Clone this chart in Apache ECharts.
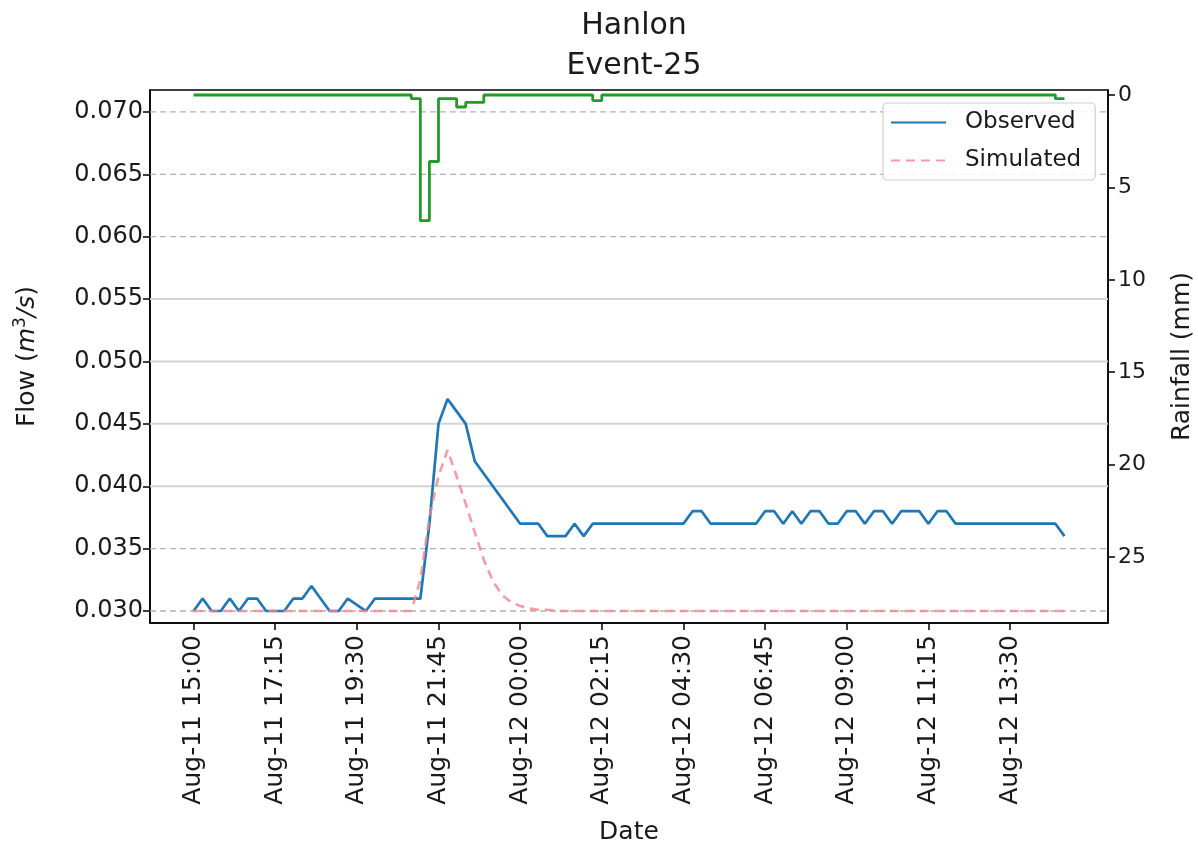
<!DOCTYPE html>
<html>
<head>
<meta charset="utf-8">
<script src="https://cdn.jsdelivr.net/npm/echarts@6/dist/echarts.min.js"></script>
<style>
html,body{margin:0;padding:0;background:#ffffff;}
#c{width:1198px;height:846px;}
</style>
</head>
<body>
<div id="c"></div>
<script>
// ---------------- DATA ----------------
const titleLines = ['Hanlon', 'Event-25'];
const seriesNames = ['Observed', 'Simulated'];
const year = 2019;
const firstSample = 'Aug-11 15:00';   // samples every 15 minutes
const sampleStepMinutes = 15;
const xMinLabel = 'Aug-11 13:48';
const xMaxLabel = 'Aug-12 16:12';

// Observed flow (m3/s), 15-min samples Aug-11 15:00 .. Aug-12 15:00
const observed = [
  0.030,0.031,0.030,0.030,0.031,0.030,0.031,0.031,0.030,0.030,
  0.030,0.031,0.031,0.032,0.031,0.030,0.030,0.031,0.0305,0.030,
  0.031,0.031,0.031,0.031,0.031,0.031,0.037,0.045,0.047,0.046,
  0.045,0.042,0.041,0.040,0.039,0.038,0.037,0.037,0.037,0.036,
  0.036,0.036,0.037,0.036,0.037,0.037,0.037,0.037,0.037,0.037,
  0.037,0.037,0.037,0.037,0.037,0.038,0.038,0.037,0.037,0.037,
  0.037,0.037,0.037,0.038,0.038,0.037,0.038,0.037,0.038,0.038,
  0.037,0.037,0.038,0.038,0.037,0.038,0.038,0.037,0.038,0.038,
  0.038,0.037,0.038,0.038,0.037,0.037,0.037,0.037,0.037,0.037,
  0.037,0.037,0.037,0.037,0.037,0.037,0.036
];

// Simulated flow (m3/s)
const simulated = [
  0.0300,0.0300,0.0300,0.0300,0.0300,0.0300,0.0300,0.0300,0.0300,0.0300,
  0.0300,0.0300,0.0300,0.0300,0.0300,0.0300,0.0300,0.0300,0.0300,0.0300,
  0.0300,0.0300,0.0300,0.0300,0.0300,0.0325,0.0375,0.0408,0.0429,0.0408,
  0.0386,0.0363,0.0341,0.0324,0.0313,0.0307,0.0304,0.0302,0.0301,0.0301,
  0.0300,0.0300,0.0300,0.0300,0.0300,0.0300,0.0300,0.0300,0.0300,0.0300,
  0.0300,0.0300,0.0300,0.0300,0.0300,0.0300,0.0300,0.0300,0.0300,0.0300,
  0.0300,0.0300,0.0300,0.0300,0.0300,0.0300,0.0300,0.0300,0.0300,0.0300,
  0.0300,0.0300,0.0300,0.0300,0.0300,0.0300,0.0300,0.0300,0.0300,0.0300,
  0.0300,0.0300,0.0300,0.0300,0.0300,0.0300,0.0300,0.0300,0.0300,0.0300,
  0.0300,0.0300,0.0300,0.0300,0.0300,0.0300,0.0300
];

// Rainfall (mm) per 15-min step
const rainfall = [
  0,0,0,0,0,0,0,0,0,0,
  0,0,0,0,0,0,0,0,0,0,
  0,0,0,0,0.2,6.8,3.6,0.2,0.2,0.65,
  0.4,0.4,0,0,0,0,0,0,0,0,
  0,0,0,0,0.3,0,0,0,0,0,
  0,0,0,0,0,0,0,0,0,0,
  0,0,0,0,0,0,0,0,0,0,
  0,0,0,0,0,0,0,0,0,0,
  0,0,0,0,0,0,0,0,0,0,
  0,0,0,0,0,0.2,0.2
];

const flowTicks = [0.030,0.035,0.040,0.045,0.050,0.055,0.060,0.065,0.070];
const flowGridDashed = [0.030,0.035,0.060,0.065,0.070];
const flowGridSolid = [0.040,0.045,0.050,0.055];
const flowMin = 0.02904, flowMax = 0.07176;
const rainTicks = [0,5,10,15,20,25];
const rainMin = -0.27, rainMax = 28.57;
const dateTickLabels = [
  'Aug-11 15:00','Aug-11 17:15','Aug-11 19:30','Aug-11 21:45','Aug-12 00:00',
  'Aug-12 02:15','Aug-12 04:30','Aug-12 06:45','Aug-12 09:00','Aug-12 11:15','Aug-12 13:30'
];

// ---------------- BUILD ----------------
const MONTHS = {Jan:0,Feb:1,Mar:2,Apr:3,May:4,Jun:5,Jul:6,Aug:7,Sep:8,Oct:9,Nov:10,Dec:11};
function parseLabel(s){
  const m = s.match(/^(\w{3})-(\d+) (\d+):(\d+)$/);
  return Date.UTC(year, MONTHS[m[1]], +m[2], +m[3], +m[4]);
}
const startMs = parseLabel(firstSample);
const times = observed.map((_, i) => startMs + i * sampleStepMinutes * 60000);
const tickTimes = dateTickLabels.map(parseLabel);
const xMin = parseLabel(xMinLabel), xMax = parseLabel(xMaxLabel);
function labelFor(v){
  let best = -1, bd = Infinity;
  tickTimes.forEach((t, i) => { const d = Math.abs(t - v); if (d < bd) { bd = d; best = i; } });
  return bd < 60000 ? dateTickLabels[best] : '';
}

const FONT = 'DejaVu Sans';
const TXT = '#1a1a1a';

function gridSeries(v, dashed){
  return {
    name: '_grid' + v, type: 'line', yAxisIndex: 0, silent: true, z: 1,
    symbol: 'none', showSymbol: false,
    lineStyle: dashed ? {type: [6, 4], color: '#b3b3b3', width: 1.3}
                      : {type: 'solid', color: '#d4d4d4', width: 2},
    data: [[xMin, v], [xMax, v]]
  };
}

const chart = echarts.init(document.getElementById('c'));
chart.setOption({
  animation: false,
  backgroundColor: '#ffffff',
  title: {
    text: titleLines.join('\n'),
    left: 629, top: 1, textAlign: 'center',
    textStyle: {fontFamily: FONT, fontSize: 30, fontWeight: 'normal', color: TXT, lineHeight: 40}
  },
  legend: {
    data: seriesNames,
    orient: 'vertical',
    left: 883, top: 103,
    backgroundColor: 'rgba(255,255,255,0.85)',
    borderColor: '#d0d0d0', borderWidth: 1.2, borderRadius: 4,
    padding: [8, 14, 8, 7],
    itemWidth: 55, itemHeight: 18, itemGap: 15,
    itemStyle: {opacity: 0},
    textStyle: {fontFamily: FONT, fontSize: 23, color: TXT, padding: [0, 0, 0, 14]}
  },
  grid: {
    left: 150, right: 90, top: 90, bottom: 223,
    containLabel: false, outerBoundsMode: 'none',
    show: true, borderColor: '#000', borderWidth: 1.5, backgroundColor: 'transparent'
  },
  xAxis: {
    type: 'value',
    min: xMin, max: xMax,
    name: 'Date', nameLocation: 'middle', nameGap: 197,
    nameTextStyle: {fontFamily: FONT, fontSize: 25, color: TXT},
    axisLine: {show: true, onZero: false, lineStyle: {color: '#000', width: 1.5}},
    axisTick: {show: true, customValues: tickTimes, length: 7, lineStyle: {color: '#000', width: 1.5}},
    axisLabel: {
      customValues: tickTimes, rotate: 90, margin: 12,
      fontFamily: FONT, fontSize: 25, color: TXT,
      formatter: v => labelFor(v)
    },
    splitLine: {show: false}
  },
  yAxis: [
    {
      type: 'value', position: 'left', min: flowMin, max: flowMax,
      name: 'Flow ({it|m}{sup|3}{it|/s})',
      nameLocation: 'middle', nameGap: 108, nameRotate: 90,
      nameTextStyle: {
        fontFamily: FONT, fontSize: 25, color: TXT,
        rich: {
          it: {fontFamily: FONT, fontSize: 25, fontStyle: 'italic', color: TXT},
          sup: {fontFamily: FONT, fontSize: 17, color: TXT, verticalAlign: 'bottom', padding: [0, 0, 13, 0]}
        }
      },
      axisLine: {show: true, onZero: false, lineStyle: {color: '#000', width: 1.5}},
      axisTick: {show: true, customValues: flowTicks, length: 7, lineStyle: {color: '#000', width: 1.5}},
      axisLabel: {customValues: flowTicks, margin: 7, fontFamily: FONT, fontSize: 24, color: TXT,
                  formatter: v => Number(v).toFixed(3)},
      splitLine: {show: false}
    },
    {
      type: 'value', position: 'right', inverse: true, min: rainMin, max: rainMax,
      name: 'Rainfall (mm)', nameLocation: 'middle', nameGap: 62, nameRotate: 90,
      nameTextStyle: {fontFamily: FONT, fontSize: 25, color: TXT},
      axisLine: {show: true, onZero: false, lineStyle: {color: '#000', width: 1.5}},
      axisTick: {show: true, customValues: rainTicks, length: 7, lineStyle: {color: '#000', width: 1.5}},
      axisLabel: {customValues: rainTicks, margin: 10, fontFamily: FONT, fontSize: 22, color: TXT},
      splitLine: {show: false}
    }
  ],
  series: flowGridDashed.map(v => gridSeries(v, true))
    .concat(flowGridSolid.map(v => gridSeries(v, false)))
    .concat([
    {
      name: seriesNames[0], type: 'line', yAxisIndex: 0, z: 3,
      symbol: 'none', showSymbol: false,
      lineStyle: {color: '#1f77b4', width: 2.7},
      itemStyle: {color: '#1f77b4'},
      data: times.map((t, i) => [t, observed[i]])
    },
    {
      name: seriesNames[1], type: 'line', yAxisIndex: 0, z: 4,
      symbol: 'none', showSymbol: false,
      lineStyle: {color: '#f5838d', width: 2.6, type: [9, 6], opacity: 0.8},
      itemStyle: {color: '#f5838d'},
      data: times.map((t, i) => [t, simulated[i]])
    },
    {
      name: 'Rainfall', type: 'line', yAxisIndex: 1, z: 5, step: 'end',
      symbol: 'none', showSymbol: false,
      lineStyle: {color: '#249b24', width: 2.8},
      itemStyle: {color: '#249b24'},
      data: times.map((t, i) => [t, rainfall[i]])
    }
  ])
});
</script>
</body>
</html>
